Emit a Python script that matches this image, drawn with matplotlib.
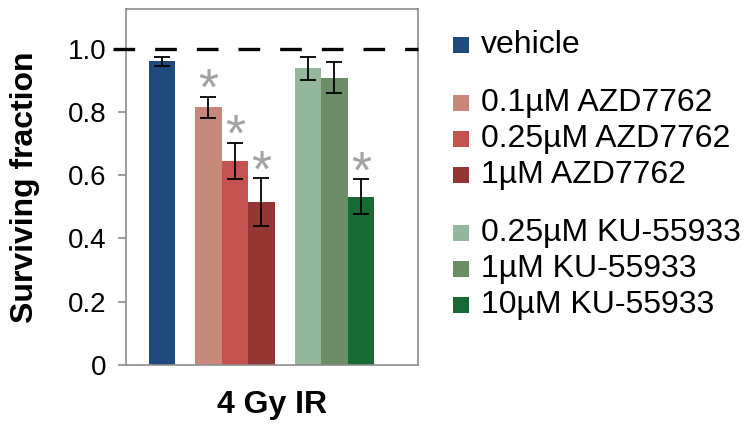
import matplotlib
matplotlib.use("Agg")
import matplotlib.pyplot as plt
from matplotlib.patches import Rectangle

plt.rcParams["font.family"] = ["Liberation Sans", "DejaVu Sans"]

# data
labels = ["vehicle", "0.1µM AZD7762", "0.25µM AZD7762", "1µM AZD7762",
          "0.25µM KU-55933", "1µM KU-55933", "10µM KU-55933"]
groups = [0, 1, 1, 1, 2, 2, 2]
values = [0.96, 0.815, 0.645, 0.515, 0.937, 0.908, 0.532]
errors = [0.014, 0.033, 0.057, 0.075, 0.035, 0.050, 0.055]
significant = [False, True, True, True, False, False, True]
colors = ["#1E4A7E", "#C8877B", "#C4524F", "#943634",
          "#94B89B", "#6B8E67", "#186A35"]
yticks = [0, 0.2, 0.4, 0.6, 0.8, 1.0]
ytick_labels = ["0", "0.2", "0.4", "0.6", "0.8", "1.0"]
reference_level = 1.0
xlabel = "4 Gy IR"
ylabel = "Surviving fraction"

W, H = 750, 428
fig = plt.figure(figsize=(W / 100, H / 100), dpi=100)
ax = fig.add_axes([126 / W, 1 - 365 / H, (418 - 126) / W, (365 - 9) / H])

group_gap = 0.75
xs = [i + g * group_gap for i, g in enumerate(groups)]

ax.bar(xs, values, width=1.0, color=colors, zorder=2)
ax.errorbar(xs, values, yerr=errors, fmt="none", ecolor="black",
            elinewidth=1.3, capsize=5.5, capthick=1.3, zorder=3)

for x, v, e, sig in zip(xs, values, errors, significant):
    if sig:
        ax.annotate("*", xy=(x, v + e), xytext=(0, -6), textcoords="offset points",
                    ha="center", va="baseline", fontsize=37, color="#a3a3a3")

ax.plot([-0.045, 1], [reference_level, reference_level], transform=ax.get_yaxis_transform(),
        color="black", lw=2.4, linestyle=(0, (6.5, 6.0)), clip_on=False, zorder=4)

ax.set_xlim(-1.36, 9.66)
ax.set_ylim(0, 1.125)
ax.set_xticks([])
ax.set_yticks(yticks)
ax.set_yticklabels(ytick_labels)
ax.tick_params(axis="y", length=6, width=1.2, color="#8c8c8c", pad=8, labelsize=20)
for sp in ax.spines.values():
    sp.set_color("#8c8c8c")
    sp.set_linewidth(1.2)

ax.set_xlabel(xlabel, fontsize=23, fontweight="bold", labelpad=18)
ax.set_ylabel(ylabel, fontsize=23, fontweight="bold")
ax.yaxis.set_label_coords(-0.295, 0.5)

# legend drawn by hand: three groups with extra space between them
row_step, extra_gap, first_row = 36, 22, 45
box = 16
for i, (lab, col, g) in enumerate(zip(labels, colors, groups)):
    yc = first_row + i * row_step + g * extra_gap
    fig.add_artist(Rectangle((453 / W, 1 - (yc + box / 2) / H), box / W, box / H,
                             transform=fig.transFigure, facecolor=col, edgecolor="none"))
    fig.text(481 / W, 1 - yc / H, lab, fontsize=23, va="center", ha="left")

fig.savefig("out.png", dpi=100)
